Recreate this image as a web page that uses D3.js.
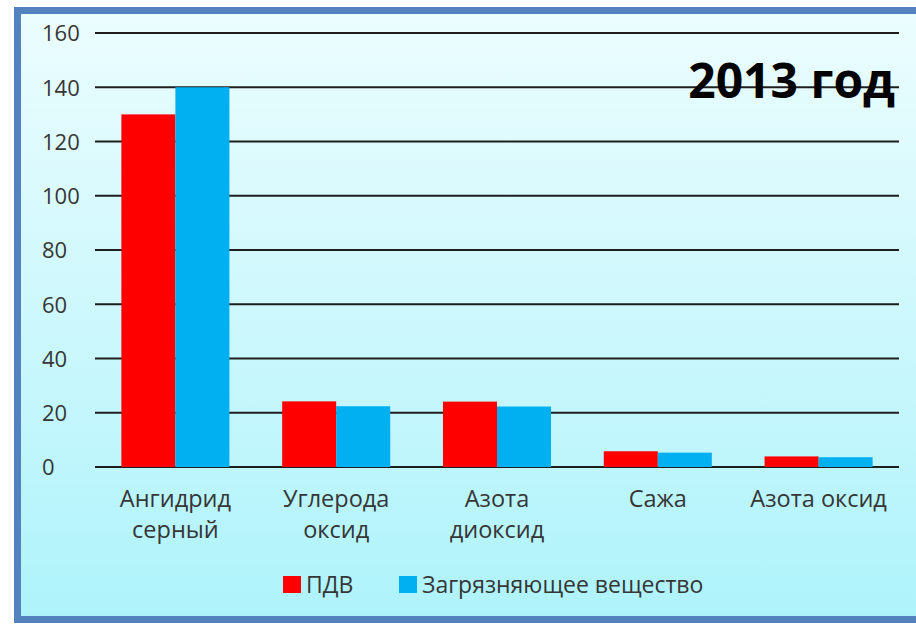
<!DOCTYPE html>
<html>
<head>
<meta charset="utf-8">
<script src="https://cdnjs.cloudflare.com/ajax/libs/d3/7.8.5/d3.min.js"></script>
<style>
    body { margin: 0; background: #fff; }
    svg { display: block; }
</style>
</head>
<body>
<svg id="chart" width="916" height="626"></svg>
<script>
const categories = [["Ангидрид", "серный"], ["Углерода", "оксид"], ["Азота", "диоксид"], ["Сажа"], ["Азота оксид"]];
const seriesNames = ["ПДВ", "Загрязняющее вещество"];
const pdvValues = [130, 24.2, 24.1, 5.8, 3.9];
const pollutantValues = [140, 22.4, 22.3, 5.3, 3.6];
const yTicks = [0, 20, 40, 60, 80, 100, 120, 140, 160];
const titleText = "2013 год";

const colors = ["#ff0000", "#00b0f0"];
const font = "'Open Sans', sans-serif";
const textColor = "#363636";

const svg = d3.select("#chart");

const defs = svg.append("defs");
const grad = defs.append("linearGradient")
    .attr("id", "bg")
    .attr("x1", 0).attr("y1", 0).attr("x2", 0).attr("y2", 1);
grad.append("stop").attr("offset", "0%").attr("stop-color", "#ecfdfe");
grad.append("stop").attr("offset", "100%").attr("stop-color", "#aef3fb");

// panel with blue frame, running off the right edge
svg.append("rect")
    .attr("x", 17.5).attr("y", 10.5)
    .attr("width", 920).attr("height", 609)
    .attr("fill", "url(#bg)")
    .attr("stroke", "#5482bf")
    .attr("stroke-width", 7);

const plotLeft = 95, plotRight = 899, plotTop = 33, plotBottom = 467;

const x0 = d3.scaleBand()
    .domain(d3.range(categories.length))
    .range([plotLeft, plotRight])
    .paddingInner(0.328)
    .paddingOuter(0.164);

const x1 = d3.scaleBand()
    .domain([0, 1])
    .range([0, x0.bandwidth()]);

const y = d3.scaleLinear().domain([0, 160]).range([plotBottom, plotTop]);

// gridlines
svg.append("g")
    .selectAll("line")
    .data(yTicks)
    .join("line")
    .attr("x1", plotLeft)
    .attr("x2", plotRight)
    .attr("y1", d => y(d))
    .attr("y2", d => y(d))
    .attr("stroke", "#1e1e1e")
    .attr("stroke-width", 2);

// y labels
svg.append("g")
    .selectAll("text")
    .data(yTicks)
    .join("text")
    .attr("x", 42)
    .attr("y", d => y(d))
    .attr("dy", "0.38em")
    .attr("font-family", font)
    .attr("font-size", "22px")
    .attr("fill", textColor)
    .text(d => d);

// bars
const rows = categories.map((c, i) => [pdvValues[i], pollutantValues[i]]);
const groups = svg.append("g")
    .selectAll("g")
    .data(rows)
    .join("g")
    .attr("transform", (d, i) => `translate(${x0(i)},0)`);

groups.selectAll("rect")
    .data(d => d)
    .join("rect")
    .attr("x", (d, j) => x1(j))
    .attr("width", x1.bandwidth())
    .attr("y", d => y(d))
    .attr("height", d => y(0) - y(d))
    .attr("fill", (d, j) => colors[j]);

// category labels
const catLabels = svg.append("g")
    .selectAll("text")
    .data(categories)
    .join("text")
    .attr("x", (d, i) => x0(i) + x0.bandwidth() / 2)
    .attr("y", 507)
    .attr("text-anchor", "middle")
    .attr("font-family", font)
    .attr("font-size", "23.5px")
    .attr("fill", textColor);

catLabels.selectAll("tspan")
    .data(d => d)
    .join("tspan")
    .attr("x", function () { return d3.select(this.parentNode).attr("x"); })
    .attr("dy", (d, i) => i === 0 ? 0 : 31)
    .text(d => d);

// title
svg.append("text")
    .attr("x", 895)
    .attr("y", 98)
    .attr("text-anchor", "end")
    .attr("font-family", font)
    .attr("font-weight", "bold")
    .attr("font-size", "48px")
    .attr("fill", "#000")
    .text(titleText);

// legend
const legendX = [283, 399];
const legend = svg.append("g")
    .selectAll("g")
    .data(seriesNames)
    .join("g")
    .attr("transform", (d, i) => `translate(${legendX[i]},576)`);

legend.append("rect")
    .attr("width", 18)
    .attr("height", 17)
    .attr("fill", (d, i) => colors[i]);

legend.append("text")
    .attr("x", 23)
    .attr("y", 17)
    .attr("font-family", font)
    .attr("font-size", "23px")
    .attr("fill", textColor)
    .text(d => d);
</script>
</body>
</html>
